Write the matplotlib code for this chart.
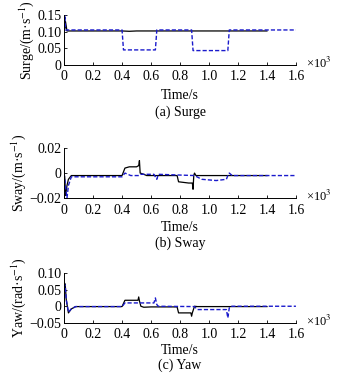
import matplotlib
matplotlib.use('Agg')
import matplotlib.pyplot as plt

plt.rcParams['font.family'] = ['Liberation Serif', 'DejaVu Serif']
plt.rcParams['mathtext.fontset'] = 'stix'
plt.rcParams['font.size'] = 10

# time in 10^3 s, breakpoints
surge_t = [0, 0.003, 0.006, 0.01, 0.02, 0.1, 0.4, 0.45, 0.5, 0.9, 1.0, 1.4]
surge_v = [0.10, 0.145, 0.11, 0.13, 0.102, 0.102, 0.102, 0.101, 0.102, 0.102, 0.102, 0.102]
surge_ref_t = [0, 0.005, 0.01, 0.02, 0.40, 0.41, 0.63, 0.64, 0.88, 0.89, 1.13, 1.14, 1.6]
surge_ref_v = [0.10, 0.15, 0.105, 0.105, 0.105, 0.045, 0.045, 0.105, 0.105, 0.043, 0.043, 0.105, 0.105]

sway_t = [0, 0.005, 0.01, 0.02, 0.03, 0.05, 0.4, 0.42, 0.45, 0.5, 0.515, 0.52, 0.525, 0.55, 0.57, 0.6,
          0.78, 0.79, 0.86, 0.885, 0.89, 0.895, 0.9, 0.91, 0.95, 1.1, 1.4]
sway_v = [0, -0.004, -0.018, -0.01, -0.005, -0.002, -0.002, 0.004, 0.005, 0.005, 0.006, 0.01, 0.0, -0.001, -0.002, -0.002,
          -0.002, -0.007, -0.008, -0.008, -0.013, -0.002, 0.0, -0.002, -0.002, -0.002, -0.002]
sway_ref_t = [0, 0.01, 0.02, 0.03, 0.05, 0.4, 0.42, 0.46, 0.52, 0.53, 0.62, 0.64, 0.65, 0.9, 0.95, 1.05, 1.12, 1.13, 1.14, 1.16, 1.6]
sway_ref_v = [0, -0.01, -0.02, -0.01, -0.003, -0.003, 0.0, -0.002, -0.002, -0.001, -0.001, -0.005, -0.001, -0.002, -0.005, -0.006, -0.005, -0.002, 0.0, -0.002, -0.002]

yaw_t = [0, 0.003, 0.008, 0.015, 0.03, 0.05, 0.08, 0.4, 0.42, 0.51, 0.515, 0.52, 0.53, 0.55, 0.6,
         0.78, 0.79, 0.875, 0.88, 0.885, 0.9, 0.92, 1.0, 1.4]
yaw_v = [0, 0.07, 0.065, 0.02, -0.02, -0.008, -0.001, -0.001, 0.018, 0.018, 0.028, 0.016, 0.0, -0.003, -0.002,
         -0.002, -0.02, -0.02, -0.03, -0.02, 0.0, -0.001, -0.001, -0.001]
yaw_ref_t = [0, 0.004, 0.008, 0.015, 0.03, 0.05, 0.08, 0.4, 0.42, 0.62, 0.63, 0.64, 0.65, 0.9, 0.92, 1.12, 1.13, 1.14, 1.15, 1.6]
yaw_ref_v = [0, 0.065, 0.06, 0.02, -0.018, -0.008, -0.001, -0.001, 0.01, 0.01, 0.025, 0.005, 0.0, -0.001, -0.01, -0.01, -0.035, -0.005, 0.0, 0.0]

panels = [
    (surge_t, surge_v, surge_ref_t, surge_ref_v, 'Surge/(m·s$^{-1}$)', (0, 0.15), [0, 0.05, 0.10, 0.15],
     ['0', '0.05', '0.10', '0.15'], '(a) Surge', [0.181, 0.827, 0.655, 0.133], 47, 4.0),
    (sway_t, sway_v, sway_ref_t, sway_ref_v, 'Sway/(m·s$^{-1}$)', (-0.02, 0.02), [-0.02, 0, 0.02],
     ['\u22120.02', '0', '0.02'], '(b) Sway', [0.181, 0.472, 0.655, 0.133], 45, 3.0),
    (yaw_t, yaw_v, yaw_ref_t, yaw_ref_v, 'Yaw/(rad·s$^{-1}$)', (-0.05, 0.10), [-0.05, 0, 0.05, 0.10],
     ['\u22120.05', '0', '0.05', '0.10'], '(c) Yaw', [0.181, 0.139, 0.655, 0.133], 42, 2.0),
]

xticks = [0, 0.2, 0.4, 0.6, 0.8, 1.0, 1.2, 1.4, 1.6]
xlabels = ['0', '0.2', '0.4', '0.6', '0.8', '1.0', '1.2', '1.4', '1.6']

fig = plt.figure(figsize=(3.54, 3.75), dpi=100)
for t, v, rt, rv, ylab, ylim, yt, ytl, cap, pos, cap_off, xpad in panels:
    ax = fig.add_axes(pos)
    ax.plot(t, v, color='black', lw=0.9)
    ax.plot(rt, rv, color='#1a1acc', lw=1.0, ls=(0, (3, 1.5)))
    ax.set_xlim(0, 1.6)
    ax.set_ylim(*ylim)
    ax.set_xticks(xticks)
    ax.set_xticklabels(xlabels)
    ax.set_yticks(yt)
    ax.set_yticklabels(ytl)
    ax.spines['top'].set_visible(False)
    ax.spines['right'].set_visible(False)
    ax.tick_params(direction='in', length=2.5, width=0.6, labelsize=10)
    ax.tick_params(axis='x', pad=4)
    ax.tick_params(axis='y', pad=2)
    for s in ax.spines.values():
        s.set_linewidth(0.7)
    ax.set_xlabel('Time/s', fontsize=10, labelpad=xpad)
    ax.set_ylabel(ylab, fontsize=10, labelpad=1)
    ax.text(1.045, 0.03, '×10$^3$', transform=ax.transAxes, fontsize=9, va='center', ha='left')
    ax.annotate(cap, xy=(0.5, 0), xycoords='axes fraction', xytext=(0, -cap_off * 0.72),
                textcoords='offset points', fontsize=10, ha='center', va='center')

fig.savefig('out.png', dpi=100)
